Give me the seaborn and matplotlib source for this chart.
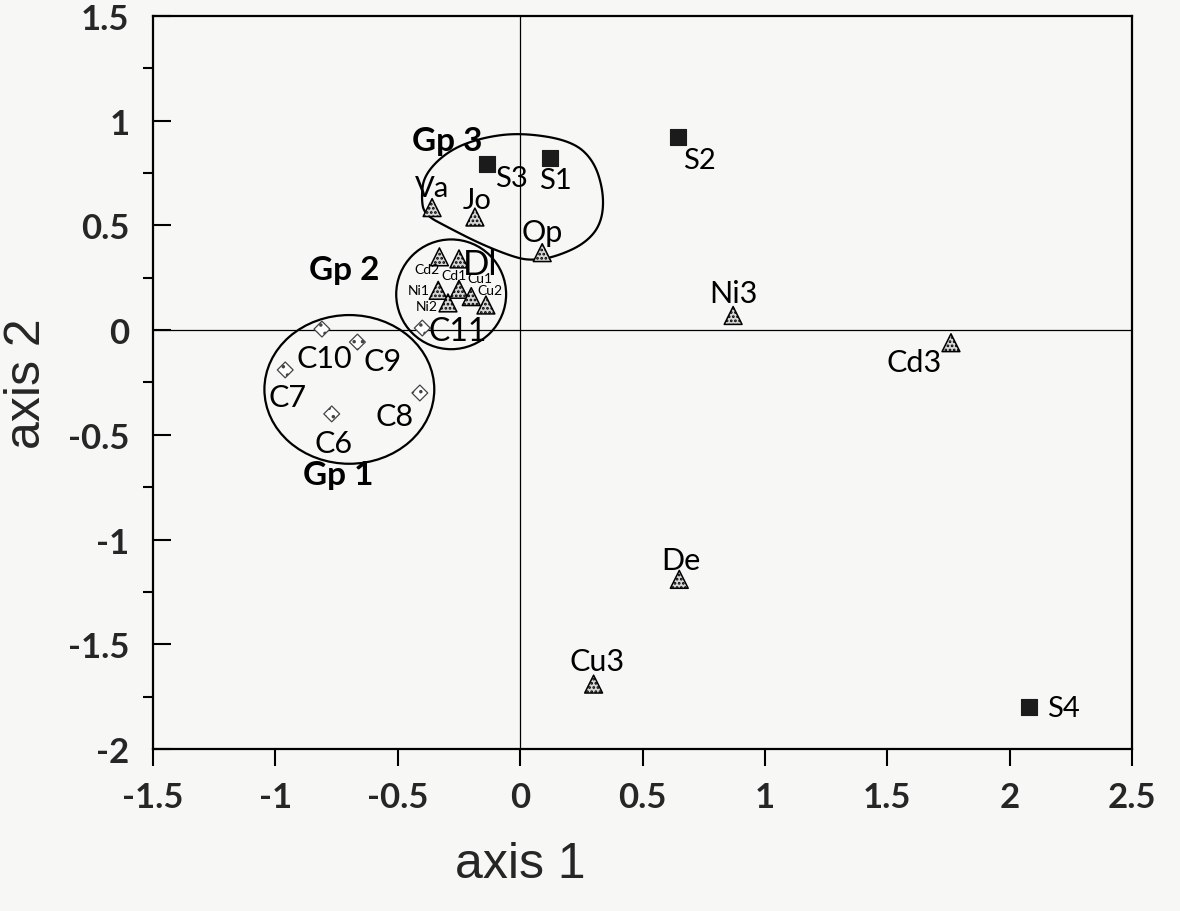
import numpy as np
import pandas as pd
import matplotlib
matplotlib.use("Agg")
import matplotlib.pyplot as plt
from matplotlib.patches import Ellipse, Polygon
from matplotlib.ticker import FixedLocator
import seaborn as sns

# ---------------- data ----------------
site_labels = ["S1", "S2", "S3", "S4"]
site_x = [0.12, 0.645, -0.135, 2.08]
site_y = [0.82, 0.92, 0.795, -1.80]

species_labels = ["Va", "Jo", "Op", "Ni3", "Cd3", "De", "Cu3",
                  "Cd2", "Dl", "Ni1", "Cd1", "Cu1", "Ni2", "Cu2"]
species_x = [-0.36, -0.185, 0.09, 0.87, 1.76, 0.65, 0.30,
             -0.33, -0.25, -0.335, -0.25, -0.20, -0.295, -0.14]
species_y = [0.585, 0.54, 0.37, 0.07, -0.06, -1.19, -1.69,
             0.35, 0.34, 0.19, 0.195, 0.16, 0.13, 0.12]

control_labels = ["C6", "C7", "C8", "C9", "C10", "C11"]
control_x = [-0.77, -0.96, -0.41, -0.665, -0.81, -0.40]
control_y = [-0.40, -0.19, -0.30, -0.057, 0.005, 0.01]

x_ticks = [-1.5, -1, -0.5, 0, 0.5, 1, 1.5, 2, 2.5]
x_tick_labels = ["-1.5", "-1", "-0.5", "0", "0.5", "1", "1.5", "2", "2.5"]
y_ticks = [-2, -1.5, -1, -0.5, 0, 0.5, 1, 1.5]
y_tick_labels = ["-2", "-1.5", "-1", "-0.5", "0", "0.5", "1", "1.5"]

group_names = ["Gp 1", "Gp 2", "Gp 3"]
group_label_x = [-0.745, -0.72, -0.30]
group_label_y = [-0.69, 0.29, 0.905]

# group 1 and 2 envelopes (ellipses: centre x, centre y, width, height)
gp_ell_cx = [-0.698, -0.282]
gp_ell_cy = [-0.283, 0.171]
gp_ell_w = [0.694, 0.449]
gp_ell_h = [0.71, 0.524]

# group 3 envelope outline
gp3_x = [-0.404, -0.392, -0.294, -0.159, 0.004, 0.208, 0.302, 0.343,
         0.331, 0.261, 0.139, 0.045, -0.024, -0.159, -0.294, -0.392]
gp3_y = [0.633, 0.743, 0.857, 0.919, 0.943, 0.905, 0.810, 0.648,
         0.505, 0.410, 0.348, 0.333, 0.348, 0.410, 0.490, 0.552]

sites = pd.DataFrame({"x": site_x, "y": site_y, "label": site_labels})
species = pd.DataFrame({"x": species_x, "y": species_y, "label": species_labels})
controls = pd.DataFrame({"x": control_x, "y": control_y, "label": control_labels})

# ---------------- figure ----------------
sns.set_theme(style="white")
plt.rcParams["font.family"] = ["Lato", "DejaVu Sans"]
bg = "#f7f7f5"
fig = plt.figure(figsize=(11.8, 9.12), dpi=100, facecolor=bg)
ax = fig.add_axes([0.1297, 0.1776, 0.8297, 0.8038])
ax.set_facecolor(bg)

ax.axhline(0, color="black", lw=0.9, zorder=1)
ax.axvline(0, color="black", lw=0.9, zorder=1)

# envelopes
for cx, cy, w, h in zip(gp_ell_cx, gp_ell_cy, gp_ell_w, gp_ell_h):
    ax.add_patch(Ellipse((cx, cy), w, h, fill=False, ec="black", lw=1.6, zorder=2))

pts = np.column_stack([gp3_x, gp3_y])
for _ in range(4):  # Chaikin smoothing of outline
    nxt = np.roll(pts, -1, axis=0)
    q = 0.75 * pts + 0.25 * nxt
    r = 0.25 * pts + 0.75 * nxt
    pts = np.empty((2 * len(q), 2))
    pts[0::2] = q
    pts[1::2] = r
ax.add_patch(Polygon(pts, closed=True, fill=False, ec="black", lw=1.6, zorder=2))

plt.rcParams["hatch.linewidth"] = 1.3
sns.scatterplot(data=sites, x="x", y="y", marker="s", s=125, color="#1b1b1b",
                edgecolor="#1b1b1b", linewidth=0.8, ax=ax, zorder=4, legend=False)
sns.scatterplot(data=species, x="x", y="y", marker="^", s=165, color="#d6d6d6",
                edgecolor="black", linewidth=1.1, ax=ax, zorder=4, legend=False)
ax.collections[-1].set_hatch("....")
sns.scatterplot(data=controls, x="x", y="y", marker="D", s=65, color="white",
                edgecolor="#444444", linewidth=0.9, ax=ax, zorder=4, legend=False)
ax.collections[-1].set_hatch("..")

# ---------------- point labels ----------------
label_style = {
    "S1": ((6, -22), 21), "S2": ((21, -23), 21), "S3": ((24, -14), 21), "S4": ((34, -1), 21),
    "Va": ((0, 20), 21), "Jo": ((2, 17), 21), "Op": ((0, 21), 22), "Ni3": ((0, 22), 22),
    "Cd3": ((-37, -19), 22), "De": ((2, 19), 22), "Cu3": ((3, 23), 22),
    "Cd2": ((-12, -12), 10), "Dl": ((21, -5), 25), "Ni1": ((-19, 0), 10),
    "Cd1": ((-5, 14), 10), "Cu1": ((9, 19), 10), "Ni2": ((-21, -3), 10),
    "Cu2": ((4, 15), 10),
    "C6": ((2, -29), 22), "C7": ((2, -27), 22), "C8": ((-25, -23), 22),
    "C9": ((25, -19), 22), "C10": ((2, -29), 22), "C11": ((35, -3), 23),
}
for df in (sites, species, controls):
    for _, row in df.iterrows():
        (dx, dy), fs = label_style[row["label"]]
        ax.annotate(row["label"], (row["x"], row["y"]), xytext=(dx, dy),
                    textcoords="offset pixels", ha="center", va="center",
                    fontsize=fs, color="black", zorder=5)

for name, gx, gy in zip(group_names, group_label_x, group_label_y):
    ax.text(gx, gy, name, ha="center", va="center", fontsize=24,
            fontweight="bold", color="black", zorder=5)

# ---------------- axes ----------------
ax.set_xlim(-1.5, 2.5)
ax.set_ylim(-2, 1.5)
ax.xaxis.set_major_locator(FixedLocator(x_ticks))
ax.set_xticklabels(x_tick_labels)
ax.yaxis.set_major_locator(FixedLocator(y_ticks))
ax.set_yticklabels(y_tick_labels)
ax.yaxis.set_minor_locator(FixedLocator([v + 0.25 for v in y_ticks[:-1]]))

for sp_ in ax.spines.values():
    sp_.set_visible(True)
    sp_.set_color("black")
    sp_.set_linewidth(1.6)

ax.tick_params(axis="x", which="major", direction="out", length=12, width=1.5,
               color="black", pad=11, labelsize=25, bottom=True)
ax.tick_params(axis="y", which="major", direction="in", length=13, width=1.5,
               color="black", pad=17, labelsize=25, left=True)
ax.tick_params(axis="y", which="minor", direction="out", length=7, width=1.5,
               color="black", left=True)
for lab in ax.get_xticklabels() + ax.get_yticklabels():
    lab.set_fontweight("bold")

ax.set_xlabel("axis 1", fontsize=36, family=["Liberation Sans", "DejaVu Sans"])
ax.set_ylabel("axis 2", fontsize=36, family=["Liberation Sans", "DejaVu Sans"])
ax.xaxis.set_label_coords(0.375, -0.125)
ax.yaxis.set_label_coords(-0.105, 0.50)

fig.savefig("out.png", dpi=100, facecolor=bg)
